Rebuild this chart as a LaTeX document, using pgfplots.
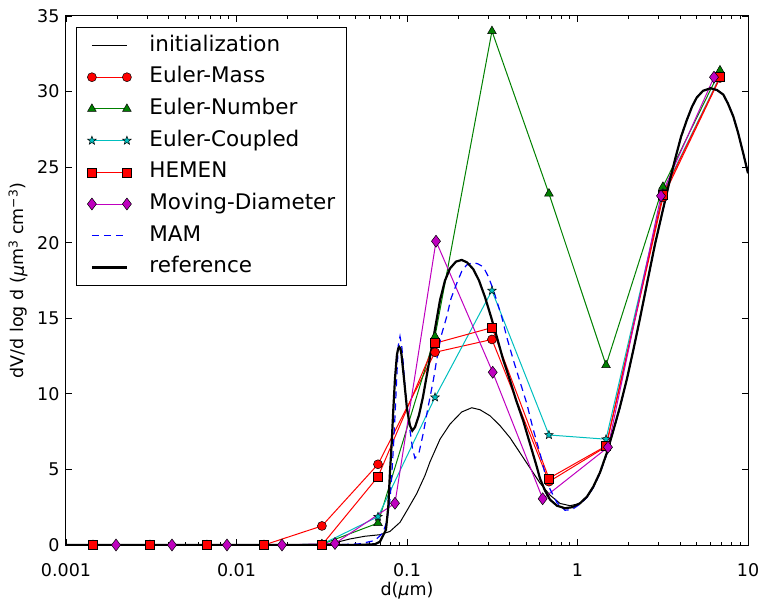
\documentclass[border=0pt]{standalone}
\usepackage{fontspec}
\setmainfont{DejaVu Sans}
\usepackage{pgfplots}
\pgfplotsset{compat=1.18}
\definecolor{mplgreen}{rgb}{0,0.5,0}
\definecolor{mplcyan}{rgb}{0,0.75,0.75}
\definecolor{mplmag}{rgb}{0.75,0,0.75}
\pgfdeclareplotmark{fstar}{%
  \pgfpathmoveto{\pgfpointpolar{90}{\pgfplotmarksize}}%
  \pgfpathlineto{\pgfpointpolar{126}{0.42\pgfplotmarksize}}%
  \pgfpathlineto{\pgfpointpolar{162}{\pgfplotmarksize}}%
  \pgfpathlineto{\pgfpointpolar{198}{0.42\pgfplotmarksize}}%
  \pgfpathlineto{\pgfpointpolar{234}{\pgfplotmarksize}}%
  \pgfpathlineto{\pgfpointpolar{270}{0.42\pgfplotmarksize}}%
  \pgfpathlineto{\pgfpointpolar{306}{\pgfplotmarksize}}%
  \pgfpathlineto{\pgfpointpolar{342}{0.42\pgfplotmarksize}}%
  \pgfpathlineto{\pgfpointpolar{18}{\pgfplotmarksize}}%
  \pgfpathlineto{\pgfpointpolar{54}{0.42\pgfplotmarksize}}%
  \pgfpathclose
  \pgfusepathqfillstroke}
\begin{document}
\begin{tikzpicture}[x=1pt,y=1pt]
\useasboundingbox (-66,-60) rectangle (697,545);
\begin{axis}[
  at={(0,0)}, anchor=south west,
  scale only axis, width=682pt, height=529pt,
  xmode=log, xmin=0.001, xmax=10, ymin=0, ymax=35,
  xtick={0.001,0.01,0.1,1,10}, xticklabels={0.001,0.01,0.1,1,10},
  ytick={0,5,10,15,20,25,30,35},
  tick align=inside,
  major tick length=6pt, minor tick length=3pt,
  tick style={black, line width=0.8pt},
  axis line style={line width=1pt},
  /pgf/number format/assume math mode=true,
  ticklabel style={font=\fontsize{17.5}{20}\selectfont},
  xticklabel shift=15pt,
  yticklabel shift=3pt,
  xlabel={d({\itshape μ}m)},
  ylabel={dV/d log d ({\itshape μ}m\textsuperscript{3} cm\textsuperscript{−3})},
  label style={font=\fontsize{17.5}{20}\selectfont},
  xlabel style={at={(rel axis cs:0.5,0)}, anchor=base, yshift=-50pt},
  ylabel style={at={(rel axis cs:0,0.5)}, anchor=center, yshift=48pt},
  every axis plot/.append style={line width=1pt},
  legend cell align=left,
  legend image code/.code={\draw[mark repeat=2,mark phase=1,#1] plot coordinates {(0pt,0pt) (17.5pt,0pt) (35pt,0pt)};},
  legend style={at={(0.0147,0.979)}, anchor=north west, draw=black, line width=0.8pt,
    font=\fontsize{21.5}{24}\selectfont, inner xsep=11pt, inner ysep=7.5pt,
    row sep=10.7pt, column sep=18pt,
    nodes={inner sep=0pt, text height=16pt, text depth=5pt}},
]
\addplot[black, line width=1pt] coordinates {
(0.001,0) (0.025,0) (0.0300,0.03) (0.0378,0.15) (0.0463,0.4) (0.0567,0.58) (0.0694,0.68) (0.0795,0.9) (0.0910,1.5) (0.1014,2.4) (0.1140,3.4) (0.1275,4.6) (0.1364,5.5) (0.1562,7.0) (0.1788,8.0) (0.2093,8.8) (0.2396,9.08) (0.2680,8.95) (0.3068,8.55) (0.3511,7.9) (0.4018,7.1) (0.4601,6.1) (0.5264,5.1) (0.6026,4.1) (0.6898,3.3) (0.7898,2.75) (0.9037,2.6) (1.0344,2.75) (1.137,3.15) (1.238,3.8) (1.355,4.75) (1.483,6.0) (1.615,7.45) (1.775,9.1) (1.951,11.0) (2.125,12.9) (2.326,15.0) (2.556,17.3) (2.848,19.9) (3.173,22.2) (3.441,23.9) (3.731,25.5) (4.046,27.0) (4.371,28.1) (4.695,29.0) (5.002,29.6) (5.447,30.05) (6.042,30.22) (6.580,30.1) (7.164,29.8) (7.634,29.2) (8.200,28.35) (8.736,27.3) (9.384,25.9) (10,24.6)};
\addlegendentry{initialization}
\addplot[red, mark=*, mark size=4.5pt, mark options={fill=red, draw=black, line width=0.5pt, solid}] coordinates {
(0.00144,0) (0.00311,0) (0.00671,0) (0.0145,0) (0.0317,1.26) (0.0676,5.34) (0.146,12.75) (0.315,13.6) (0.68,4.19) (1.47,6.5) (3.17,23.0) (6.85,30.9)};
\addlegendentry{Euler-Mass}
\addplot[mplgreen, mark=triangle*, mark size=5pt, mark options={fill=mplgreen, draw=black, line width=0.5pt, solid}] coordinates {
(0.00144,0) (0.00311,0) (0.00671,0) (0.0145,0) (0.0317,0.05) (0.0676,1.45) (0.146,13.8) (0.315,34.0) (0.68,23.25) (1.47,11.9) (3.17,23.7) (6.85,31.4)};
\addlegendentry{Euler-Number}
\addplot[mplcyan, mark=fstar, mark size=4.5pt, mark options={fill=mplcyan, draw=black, line width=0.5pt, solid}] coordinates {
(0.00144,0) (0.00311,0) (0.00671,0) (0.0145,0) (0.0317,0.05) (0.0676,1.87) (0.146,9.77) (0.315,16.83) (0.68,7.28) (1.47,7.0) (3.17,23.3) (6.85,31.0)};
\addlegendentry{Euler-Coupled}
\addplot[red, mark=square*, mark size=4.5pt, mark options={fill=red, draw=black, line width=0.5pt, solid}] coordinates {
(0.00144,0) (0.00311,0) (0.00671,0) (0.0145,0) (0.0317,0) (0.0676,4.52) (0.146,13.35) (0.315,14.38) (0.68,4.41) (1.47,6.55) (3.17,23.2) (6.85,30.95)};
\addlegendentry{HEMEN}
\addplot[mplmag, mark=diamond*, mark size=6pt, mark options={fill=mplmag, draw=black, line width=0.5pt, solid}] coordinates {
(0.001965,0) (0.004183,0) (0.008796,0) (0.01849,0) (0.03782,0.1) (0.08501,2.76) (0.1480,20.1) (0.3182,11.43) (0.6249,3.06) (1.510,6.47) (3.088,23.1) (6.319,30.95)};
\addlegendentry{Moving-Diameter}
\addplot[blue, line width=1.2pt, dash pattern=on 7pt off 5pt] coordinates {
(0.001,0) (0.03,0) (0.04,0.02) (0.053,0.08) (0.0649,0.3) (0.0723,0.8) (0.0763,1.6) (0.07946,3.0) (0.08129,4.5) (0.08307,6.3) (0.08501,8.5) (0.08733,11.4) (0.08892,13.2) (0.0910,13.8) (0.0931,13.2) (0.0951,12.0) (0.0973,10.5) (0.1007,8.9) (0.1041,7.6) (0.1077,6.4) (0.1114,5.74) (0.1176,6.1) (0.1246,7.4) (0.1328,9.1) (0.1427,10.9) (0.1493,12.24) (0.1583,13.8) (0.1709,15.1) (0.1811,16.3) (0.1956,17.3) (0.2093,18.1) (0.2239,18.53) (0.2448,18.68) (0.2608,18.6) (0.2803,18.4) (0.2986,17.8) (0.3208,16.9) (0.3593,15.1) (0.3859,13.7) (0.4203,12.24) (0.4601,10.8) (0.5036,9.38) (0.5483,7.7) (0.6026,6.07) (0.6447,4.74) (0.6898,3.7) (0.7584,2.8) (0.8448,2.3) (0.9284,2.35) (1.0344,2.7) (1.137,3.15) (1.238,3.8) (1.355,4.75) (1.483,6.0) (1.615,7.45) (1.775,9.1) (1.951,11.0) (2.125,12.9) (2.326,15.0) (2.556,17.3) (2.848,19.9) (3.173,22.2) (3.441,23.9) (3.731,25.5) (4.046,27.0) (4.371,28.1) (4.695,29.0) (5.002,29.6) (5.447,30.05) (6.042,30.22) (6.580,30.1) (7.164,29.8) (7.634,29.2) (8.200,28.35) (8.736,27.3) (9.384,25.9) (10,24.6)};
\addlegendentry{MAM}
\addplot[black, line width=2.2pt] coordinates {
(0.001,0) (0.02,0) (0.05,0) (0.0649,0.05) (0.06943,0.22) (0.07527,1.0) (0.07765,2.5) (0.07946,4.8) (0.08129,6.7) (0.08307,8.9) (0.08501,11.0) (0.08733,12.6) (0.0888,13.0) (0.09012,13.1) (0.0915,13.0) (0.09284,12.6) (0.09603,11.0) (0.1,9.0) (0.1041,7.9) (0.1074,7.56) (0.1114,7.8) (0.1176,8.6) (0.1241,9.8) (0.1310,11.3) (0.1383,12.8) (0.1460,14.3) (0.1562,16.2) (0.1671,17.5) (0.1788,18.3) (0.1938,18.75) (0.2093,18.86) (0.2248,18.7) (0.2448,18.25) (0.2644,17.5) (0.2868,16.4) (0.3110,15.1) (0.3358,13.8) (0.3656,12.3) (0.4018,10.9) (0.4358,9.6) (0.4810,8.2) (0.5264,6.7) (0.5763,5.2) (0.6026,4.4) (0.6447,3.6) (0.6898,3.0) (0.7584,2.6) (0.8448,2.43) (0.9284,2.5) (1.0344,2.76) (1.137,3.2) (1.238,3.86) (1.355,4.8) (1.483,6.07) (1.615,7.5) (1.775,9.15) (1.951,11.0) (2.125,12.9) (2.326,15.0) (2.556,17.3) (2.848,19.9) (3.173,22.2) (3.441,23.9) (3.731,25.5) (4.046,27.0) (4.371,28.1) (4.695,29.0) (5.002,29.6) (5.447,30.05) (6.042,30.22) (6.580,30.1) (7.164,29.8) (7.634,29.2) (8.200,28.35) (8.736,27.3) (9.384,25.9) (10,24.6)};
\addlegendentry{reference}
\end{axis}
\end{tikzpicture}
\end{document}
